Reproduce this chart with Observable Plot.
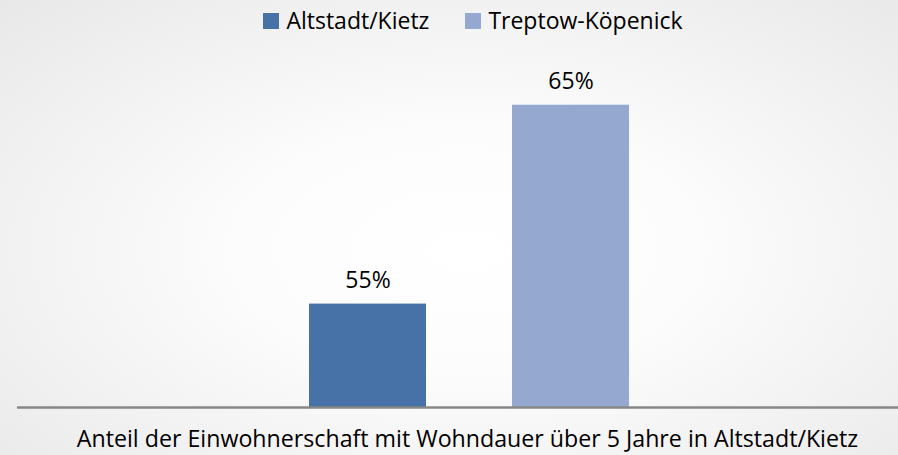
<!DOCTYPE html>
<html>
<head>
<meta charset="utf-8">
<script src="https://cdn.jsdelivr.net/npm/d3@7"></script>
<script src="https://cdn.jsdelivr.net/npm/@observablehq/plot@0.6"></script>
<style>
  body { margin: 0; }
  #chart {
    width: 898px; height: 455px; position: relative; overflow: hidden;
    background: radial-gradient(ellipse farthest-corner at 52% 55%, #ffffff 0%, #fcfcfc 35%, #e8e8e8 100%);
    font-family: "Open Sans", sans-serif; color: #000;
  }
  #legend { position: absolute; left: 0; top: 9px; width: 898px; box-sizing: border-box; padding-left: 48px;
    display: flex; justify-content: center; }
  #plot { position: absolute; left: 0; top: 45px; }
  #caption { position: absolute; left: 0; top: 427px; width: 898px; box-sizing: border-box; padding-left: 37px;
    text-align: center; font-size: 23.2px; line-height: 23px; white-space: nowrap; }
  .lg-swatches { font-family: "Open Sans", sans-serif !important; font-size: 23px !important; line-height: 23px; min-height: 0 !important; margin: 0 !important; color: #000; }
  .lg-swatch { margin-right: 36px !important; }
  .lg-swatch:last-child { margin-right: 0 !important; }
  .lg-swatch > svg { margin-right: 7px !important; }
</style>
</head>
<body>
<div id="chart">
  <div id="legend"></div>
  <div id="plot"></div>
  <div id="caption"></div>
</div>
<script>
const series = ["Altstadt/Kietz", "Treptow-Köpenick"];
const values = [55, 65];
const valueLabels = ["55%", "65%"];
const categoryLabel = "Anteil der Einwohnerschaft mit Wohndauer über 5 Jahre in Altstadt/Kietz";
const seriesColors = ["#4672A8", "#95A9D0"];
const yMin = 49.8, yMax = 67.5;

const data = series.map((s, i) => ({series: s, value: values[i], label: valueLabels[i]}));

const colorScale = {domain: series, range: seriesColors};

document.getElementById("legend").appendChild(
  Plot.legend({color: colorScale, legend: "swatches", swatchSize: 16, className: "lg"})
);

const chart = Plot.plot({
  width: 898,
  height: 370,
  marginTop: 10,
  marginBottom: 8,
  marginLeft: 17,
  marginRight: 0,
  style: {background: "transparent", overflow: "visible", fontFamily: "Open Sans, sans-serif"},
  x: {domain: series, range: [308, 629], paddingInner: 0.426, paddingOuter: 0, axis: null},
  y: {domain: [yMin, yMax], axis: null},
  color: colorScale,
  marks: [
    Plot.barY(data, {x: "series", y1: yMin, y2: "value", fill: "series"}),
    Plot.ruleY([yMin], {stroke: "#878787", strokeWidth: 2.5}),
    Plot.text(data, {x: "series", y: "value", text: "label", dy: -16, lineAnchor: "bottom", fontSize: 23, fill: "#000"})
  ]
});
document.getElementById("plot").appendChild(chart);
document.getElementById("caption").textContent = categoryLabel;
</script>
</body>
</html>
